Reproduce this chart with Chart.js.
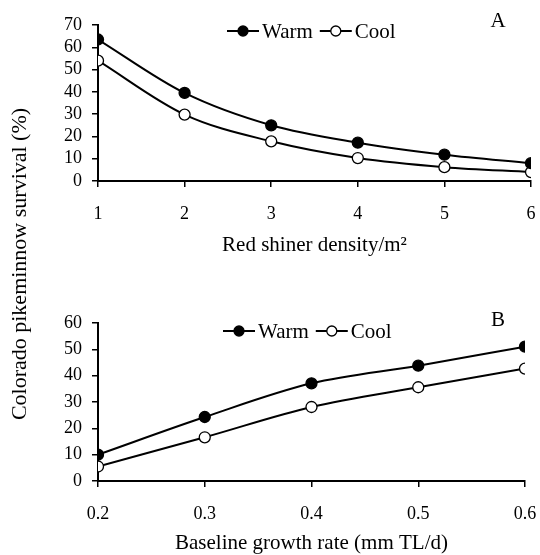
<!DOCTYPE html>
<html>
<head>
<meta charset="utf-8">
<script src="https://cdn.jsdelivr.net/npm/chart.js@4.4.1/dist/chart.umd.min.js"></script>
<style>
html, body { margin: 0; padding: 0; width: 540px; height: 555px; overflow: hidden; background: #fff; }
#wrapA { position: absolute; left: 0; top: 0; width: 540px; height: 260px; }
#wrapB { position: absolute; left: 0; top: 280px; width: 540px; height: 280px; }
#ytitle {
  position: absolute; left: 19px; top: 264px; width: 420px; height: 26px;
  margin-left: -210px; margin-top: -13px; text-align: center; line-height: 26px;
  transform: rotate(-90deg); font-family: "Liberation Serif", "Times New Roman", serif;
  font-size: 22px; color: #000; white-space: nowrap;
}
</style>
</head>
<body>
<div id="wrapA"><canvas id="chartA" width="540" height="260"></canvas></div>
<div id="wrapB"><canvas id="chartB" width="540" height="280"></canvas></div>
<div id="ytitle">Colorado pikeminnow survival (%)</div>
<script>
// ---- Data ----
const densities = [1, 2, 3, 4, 5, 6];
const warmA = [63.5, 39.5, 25.0, 17.2, 11.8, 8.0];
const coolA = [54.0, 29.8, 17.8, 10.3, 6.2, 4.0];

const growthRates = [0.2, 0.3, 0.4, 0.5, 0.6];
const warmB = [10.0, 24.3, 37.1, 43.8, 51.0];
const coolB = [5.5, 16.6, 28.1, 35.6, 42.7];

const seriesLabels = ['Warm', 'Cool'];
const xTitleA = 'Red shiner density/m\u00B2';
const xTitleB = 'Baseline growth rate (mm TL/d)';

const FONT = '"Liberation Serif", "Times New Roman", serif';
Chart.defaults.font.family = FONT;
Chart.defaults.color = '#000';

const legendPlugin = {
  id: 'panelLegend',
  afterDraw(chart, args, opts) {
    const ctx = chart.ctx;
    const a = chart.chartArea;
    ctx.save();
    ctx.font = '21px ' + FONT;
    ctx.textBaseline = 'middle';
    ctx.textAlign = 'left';
    let x = a.left + opts.dx;
    const y = a.top + opts.dy;
    chart.data.datasets.forEach(ds => {
      ctx.strokeStyle = '#000';
      ctx.lineWidth = 2;
      ctx.beginPath();
      ctx.moveTo(x, y);
      ctx.lineTo(x + 32, y);
      ctx.stroke();
      ctx.beginPath();
      ctx.arc(x + 16, y, 5, 0, Math.PI * 2);
      ctx.fillStyle = ds.pointBackgroundColor;
      ctx.fill();
      ctx.lineWidth = 1.3;
      ctx.stroke();
      x += 35;
      ctx.fillStyle = '#000';
      ctx.fillText(ds.label, x, y + 1);
      x += ctx.measureText(ds.label).width + 7;
    });
    ctx.textAlign = 'center';
    ctx.font = '21px ' + FONT;
    ctx.fillText(opts.letter, a.left + opts.lx, a.top + opts.ly);
    ctx.restore();
  }
};

function makeSeries(xs, ys, label, fill) {
  return {
    label: label,
    data: xs.map((x, i) => ({ x: x, y: ys[i] })),
    borderColor: '#000',
    borderWidth: 2,
    pointBackgroundColor: fill,
    pointBorderColor: '#000',
    pointBorderWidth: 1.3,
    pointRadius: 5.5,
    cubicInterpolationMode: 'monotone',
    fill: false
  };
}

function axisCommon() {
  return {
    grid: { display: true, drawOnChartArea: false, drawTicks: true, tickLength: 6, color: '#000', lineWidth: 1.5 },
    border: { display: true, color: '#000', width: 2 }
  };
}

function makeChart(id, xs, warm, cool, cfg) {
  return new Chart(document.getElementById(id), {
    type: 'line',
    data: {
      datasets: [
        makeSeries(xs, warm, seriesLabels[0], '#000'),
        makeSeries(xs, cool, seriesLabels[1], '#fff')
      ]
    },
    options: {
      responsive: false,
      animation: false,
      layout: { padding: cfg.padding },
      plugins: {
        legend: { display: false },
        tooltip: { enabled: false },
        panelLegend: cfg.legend
      },
      scales: {
        x: Object.assign(axisCommon(), {
          type: 'linear',
          min: cfg.xmin, max: cfg.xmax,
          ticks: { stepSize: cfg.xstep, autoSkip: false, padding: 16, font: { size: 18 }, callback: cfg.xfmt },
          title: { display: true, text: cfg.xtitle, font: { size: 21 }, padding: { top: 0, bottom: cfg.titlePad } },
          afterFit: s => { s.height = cfg.xHeight; s.paddingLeft = 0; s.paddingRight = 0; }
        }),
        y: Object.assign(axisCommon(), {
          min: 0, max: cfg.ymax,
          ticks: { stepSize: 10, autoSkip: false, padding: 10, font: { size: 18 } },
          afterFit: s => { s.width = 98; s.paddingTop = 0; s.paddingBottom = 0; }
        })
      }
    },
    plugins: [legendPlugin]
  });
}

makeChart('chartA', densities, warmA, coolA, {
  padding: { left: 0, right: 9, top: 25, bottom: 0 },
  xmin: 1, xmax: 6, xstep: 1, xfmt: v => String(v),
  xtitle: xTitleA, titlePad: 2, xHeight: 79, ymax: 70,
  legend: { dx: 129, dy: 6, lx: 400, ly: -4, letter: 'A' }
});

makeChart('chartB', growthRates, warmB, coolB, {
  padding: { left: 0, right: 15, top: 43, bottom: 0 },
  xmin: 0.2, xmax: 0.6, xstep: 0.1, xfmt: v => Number(v).toFixed(1),
  xtitle: xTitleB, titlePad: 4, xHeight: 79, ymax: 60,
  legend: { dx: 125, dy: 8, lx: 400, ly: -3, letter: 'B' }
});
</script>
</body>
</html>
